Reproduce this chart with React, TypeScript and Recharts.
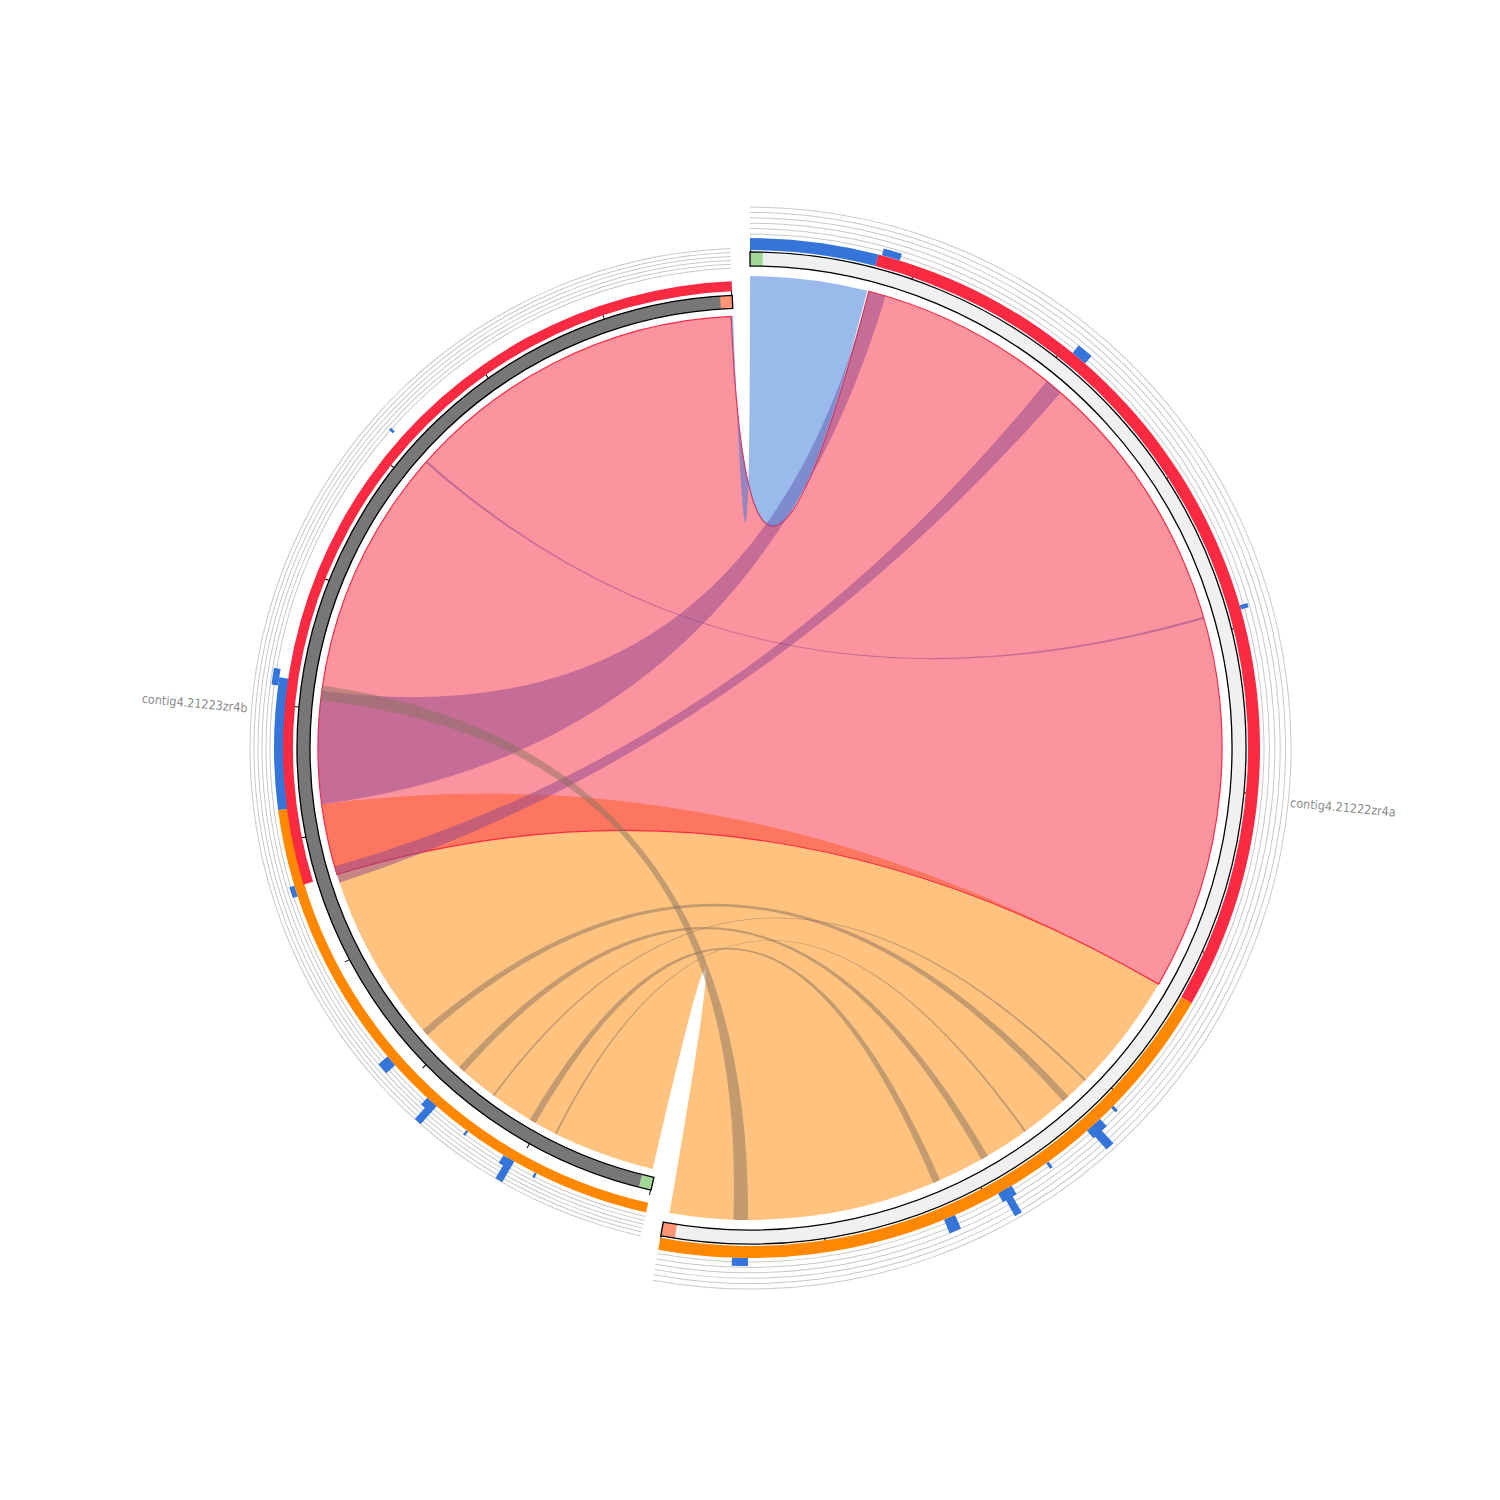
import React from 'react'
import { PieChart, Pie, Cell, Customized } from 'recharts'

// ---- data (positions in kb along each contig) ----
const contigNames = ['contig4.21222zr4a', 'contig4.21223zr4b']
const contigKb = [38.1, 33.05]
const tickFractions = [0, 0.1, 0.2, 0.3, 0.4, 0.5, 0.6, 0.7, 0.8, 0.9, 1]

// cytoband-like end boxes: [contig, start, end, kind]
const bands: [number, number, number, string][] = [
  [0, 0, 0.3, 'green'],
  [0, 37.77, 38.1, 'salmon'],
  [1, 0, 0.32, 'green'],
  [1, 32.74, 33.05, 'salmon'],
]

// highlight track: [contig, start, end, kind]
const highlights: [number, number, number, string][] = [
  [0, 0, 2.92, 'blue'],
  [0, 2.92, 24.02, 'red'],
  [0, 24.02, 38.1, 'orange'],
  [1, 0, 13.99, 'orange'],
  [1, 13.99, 17.2, 'blue'],
  [1, 12.08, 33.05, 'red'],
]

// histogram track: [contig, start, end, value 0..1]
const histBars: [number, number, number, number][] = [
  [0, 3.0, 3.42, 0.23],
  [0, 7.85, 8.22, 0.32],
  [0, 14.76, 14.86, 0.26],
  [0, 26.93, 27.0, 0.2],
  [0, 27.35, 27.75, 0.32],
  [0, 27.5, 27.7, 0.87],
  [0, 28.85, 28.92, 0.22],
  [0, 29.85, 30.2, 0.32],
  [0, 29.95, 30.12, 0.9],
  [0, 31.28, 31.55, 0.48],
  [0, 36.07, 36.43, 0.26],
  [1, 23.77, 23.84, 0.22],
  [1, 17.0, 17.4, 0.28],
  [1, 11.85, 12.12, 0.22],
  [1, 7.12, 7.4, 0.5],
  [1, 5.72, 6.02, 0.38],
  [1, 5.72, 5.9, 1.0],
  [1, 4.74, 4.8, 0.22],
  [1, 3.42, 3.72, 0.38],
  [1, 3.42, 3.6, 1.0],
  [1, 2.8, 2.86, 0.22],
]

// links between the two contigs (draw order)
const linkKinds = ['orange', 'red', 'purple', 'blue', 'purple', 'purple', 'brown', 'brown', 'brown', 'brown', 'brown', 'brown']
const linkRightKb: [number, number][] = [
  [24.02, 37.99], [2.92, 24.02], [2.92, 3.34], [0, 2.88], [14.78, 14.84], [7.8, 8.24],
  [36.07, 36.43], [27.53, 27.71], [29.97, 30.15], [31.27, 31.45], [26.94, 26.99], [28.86, 28.91],
]
const linkLeftKb: [number, number][] = [
  [0.08, 13.99], [12.08, 33.0], [13.99, 17.01], [33.0, 33.05], [23.76, 23.82], [11.85, 12.3],
  [16.75, 17.15], [7.15, 7.33], [5.77, 5.95], [3.43, 3.61], [4.74, 4.79], [2.8, 2.85],
]

// ---- layout ----
const CX = 750
const CY = 748
const GAP_KB = 0.45
const LINK_R = [472, 432]
const IDEO_R = [[482, 496], [440, 453]]
const TICK_R = [[496, 501], [453, 458]]
const HL_R = [[498, 510], [457, 467]]
const HL_OUTER_LEFT = [466, 476]
const HIST_BASE = [510, 476]
const HIST_H = [31, 24]
const GRID_R = [[514, 519.4, 524.8, 530.2, 535.6, 541], [480, 484, 488, 492, 496, 500]]
const LABEL_R = [543, 504]

const COLOR: Record<string, string> = {
  blue: '#3575d9', red: '#f92a42', orange: '#ff8800', purple: '#8d458b',
  brown: '#8a7360', green: '#a3d898', salmon: '#fe9474',
}
const IDEO_FILL = ['#f0f0f0', '#777777']

const DEG = 360 / (contigKb[0] + contigKb[1] + 2 * GAP_KB)
const contigOffset = [0, contigKb[0] + GAP_KB]
const theta = (c: number, kb: number) => (contigOffset[c] + kb) * DEG

type Item = { contig: number; start: number; end: number; fill?: string; stroke?: string }
type Slice = { value: number; fill: string; stroke: string }

function slices(items: Item[]): Slice[] {
  const out: Slice[] = []
  contigKb.forEach((len, c) => {
    let cur = 0
    items
      .filter(s => s.contig === c)
      .sort((a, b) => a.start - b.start)
      .forEach(s => {
        if (s.start > cur + 1e-6) out.push({ value: s.start - cur, fill: 'none', stroke: 'none' })
        out.push({ value: s.end - Math.max(s.start, cur), fill: s.fill ?? 'none', stroke: s.stroke ?? 'none' })
        cur = s.end
      })
    if (len > cur + 1e-6) out.push({ value: len - cur, fill: 'none', stroke: 'none' })
    out.push({ value: GAP_KB, fill: 'none', stroke: 'none' })
  })
  return out
}

function ring(key: string, items: Item[], r0: number, r1: number, strokeWidth = 0) {
  const data = slices(items)
  return (
    <Pie
      key={key}
      data={data}
      dataKey="value"
      cx={CX}
      cy={CY}
      innerRadius={r0}
      outerRadius={r1}
      startAngle={90}
      endAngle={-270}
      paddingAngle={0}
      stroke="none"
      legendType="none"
      isAnimationActive={false}
    >
      {data.map((d, i) => (
        <Cell key={i} fill={d.fill} stroke={d.stroke} strokeWidth={strokeWidth} />
      ))}
    </Pie>
  )
}

function pt(th: number, r: number) {
  const a = (th * Math.PI) / 180
  return `${(CX + r * Math.sin(a)).toFixed(2)},${(CY - r * Math.cos(a)).toFixed(2)}`
}

function ribbon(right: [number, number], left: [number, number]) {
  const [rA, rB] = LINK_R
  const a0 = theta(0, right[0]), a1 = theta(0, right[1])
  const b0 = theta(1, left[0]), b1 = theta(1, left[1])
  const la = a1 - a0 > 180 ? 1 : 0
  const lb = b1 - b0 > 180 ? 1 : 0
  return (
    `M${pt(a0, rA)} A${rA},${rA} 0 ${la} 1 ${pt(a1, rA)} ` +
    `Q${CX},${CY} ${pt(b0, rB)} A${rB},${rB} 0 ${lb} 1 ${pt(b1, rB)} ` +
    `Q${CX},${CY} ${pt(a0, rA)} Z`
  )
}

function LinksLayer() {
  return (
    <g>
      {linkKinds.map((k, i) => (
        <path
          key={i}
          d={ribbon(linkRightKb[i], linkLeftKb[i])}
          fill={COLOR[k]}
          fillOpacity={0.5}
          stroke={k === 'red' ? COLOR.red : 'none'}
          strokeWidth={1.2}
        />
      ))}
    </g>
  )
}

function LabelsLayer() {
  return (
    <g>
      {contigNames.map((name, c) => {
        const mid = theta(c, contigKb[c] / 2)
        const a = (mid * Math.PI) / 180
        const x = CX + LABEL_R[c] * Math.sin(a)
        const y = CY - LABEL_R[c] * Math.cos(a)
        const rot = c === 0 ? mid - 90 : mid - 270
        return (
          <text
            key={name}
            x={x}
            y={y}
            dy={10}
            textAnchor={c === 0 ? 'start' : 'end'}
            transform={`rotate(${rot.toFixed(2)} ${x.toFixed(2)} ${y.toFixed(2)})`}
            fontFamily="'DejaVu Sans Condensed', 'DejaVu Sans', sans-serif"
            fontStretch="condensed"
            fontSize={12.5}
            fill="#8c8c8c"
          >
            {name}
          </text>
        )
      })}
    </g>
  )
}

export default function App() {
  const pies: React.ReactNode[] = []

  contigKb.forEach((len, c) => {
    const [i0, i1] = IDEO_R[c]
    // ideogram body, end boxes, outline
    pies.push(ring(`ideo${c}`, [{ contig: c, start: 0, end: len, fill: IDEO_FILL[c] }], i0, i1))
    pies.push(
      ring(
        `band${c}`,
        bands.filter(b => b[0] === c).map(b => ({ contig: c, start: b[1], end: b[2], fill: COLOR[b[3]] })),
        i0,
        i1,
      ),
    )
    pies.push(ring(`ideoLine${c}`, [{ contig: c, start: 0, end: len, stroke: '#000' }], i0, i1, 1.3))

    // ticks every 10% of the contig
    pies.push(
      ring(
        `ticks${c}`,
        tickFractions.map(f => {
          const s = Math.min(Math.max(0, f * len - 0.0125), len - 0.025)
          return { contig: c, start: s, end: s + 0.025, fill: '#000' }
        }),
        TICK_R[c][0],
        TICK_R[c][1],
      ),
    )

    // grid lines of the histogram track
    GRID_R[c].forEach((r, gi) => {
      pies.push(ring(`grid${c}-${gi}`, [{ contig: c, start: 0, end: len, fill: '#c8c8c8' }], r - 0.5, r + 0.5))
    })

    // highlight track
    const hl = highlights.filter(h => h[0] === c)
    if (c === 0) {
      pies.push(ring(`hl${c}`, hl.map(h => ({ contig: c, start: h[1], end: h[2], fill: COLOR[h[3]] })), HL_R[c][0], HL_R[c][1]))
    } else {
      pies.push(
        ring(
          `hlOuter${c}`,
          hl.filter(h => h[3] !== 'red').map(h => ({ contig: c, start: h[1], end: h[2], fill: COLOR[h[3]] })),
          HL_OUTER_LEFT[0],
          HL_OUTER_LEFT[1],
        ),
      )
      pies.push(
        ring(
          `hlInner${c}`,
          hl.filter(h => h[3] === 'red').map(h => ({ contig: c, start: h[1], end: h[2], fill: COLOR[h[3]] })),
          HL_R[c][0],
          HL_R[c][1],
        ),
      )
    }

    // histogram bars
    histBars
      .filter(b => b[0] === c)
      .forEach((b, bi) => {
        pies.push(
          ring(
            `hist${c}-${bi}`,
            [{ contig: c, start: b[1], end: b[2], fill: COLOR.blue }],
            HIST_BASE[c],
            HIST_BASE[c] + b[3] * HIST_H[c],
          ),
        )
      })
  })

  return (
    <div style={{ position: 'absolute', left: 0, top: 0, background: '#fff' }}>
      <PieChart width={1500} height={1500} margin={{ top: 0, right: 0, bottom: 0, left: 0 }}>
        <Customized component={LinksLayer} />
        {pies}
        <Customized component={LabelsLayer} />
      </PieChart>
    </div>
  )
}
